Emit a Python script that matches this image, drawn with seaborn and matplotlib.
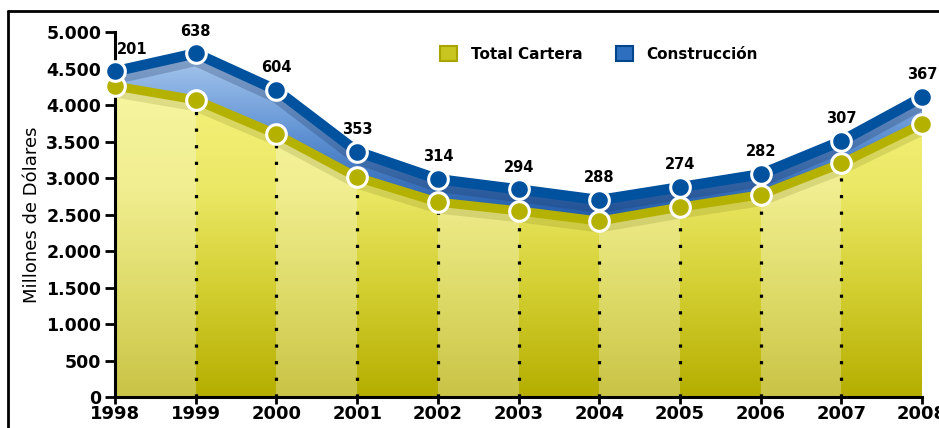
import numpy as np
import pandas as pd
import seaborn as sns
import matplotlib.pyplot as plt
from matplotlib.colors import LinearSegmentedColormap
from matplotlib.patches import PathPatch, Patch
from matplotlib.lines import Line2D
from matplotlib.ticker import FuncFormatter

# Data
years = [1998, 1999, 2000, 2001, 2002, 2003, 2004, 2005, 2006, 2007, 2008]
total_cartera = [4260, 4070, 3600, 3010, 2670, 2550, 2410, 2600, 2770, 3200, 3740]
construccion = [201, 638, 604, 353, 314, 294, 288, 274, 282, 307, 367]

df = pd.DataFrame({"year": years, "total": total_cartera, "constr": construccion})
df["top"] = df["total"] + df["constr"]

sns.set_style("white")
plt.rcParams["font.family"] = ["DejaVu Sans"]
plt.rcParams["text.color"] = "black"
plt.rcParams["xtick.color"] = "black"
plt.rcParams["ytick.color"] = "black"
plt.rcParams["axes.labelcolor"] = "black"

fig = plt.figure(figsize=(9.39, 4.28), dpi=100)
ax = fig.add_axes([0.1225, 0.0724, 0.8595, 0.8528])

yellow_cmap = LinearSegmentedColormap.from_list("yel", ["#b5ae00", "#d2ce30", "#ebe866", "#f5f27c"])
blue_cmap = LinearSegmentedColormap.from_list("blu", ["#1f5aa8", "#5d90d2", "#a9c8ee"])


def gradient_fill(x, y1, y2, cmap, vmin, vmax, z, alpha=1.0):
    poly = ax.fill_between(x, y1, y2, facecolor="none", edgecolor="none")
    path = poly.get_paths()[0]
    grad = np.linspace(0, 1, 256).reshape(-1, 1)
    im = ax.imshow(grad, extent=[x[0], x[-1], vmin, vmax], origin="lower",
                   aspect="auto", cmap=cmap, zorder=z, alpha=alpha)
    im.set_clip_path(PathPatch(path, transform=ax.transData))
    return path


ypath = gradient_fill(df["year"].values, 0, df["total"].values, yellow_cmap, 0, 4300, 1)
gradient_fill(df["year"].values, df["total"].values, df["top"].values, blue_cmap, 2400, 4700, 1)

# alternating lighter columns in the yellow area
for i in range(0, len(years) - 1, 2):
    r = ax.axvspan(years[i], years[i + 1], color="white", alpha=0.28, lw=0, zorder=1.5)
    r.set_clip_path(PathPatch(ypath, transform=ax.transData))

# soft shadow under the lines
ax.plot(df["year"], df["top"] - 90, color="#1a2f55", lw=9, alpha=0.25, zorder=2, solid_capstyle="round")
ax.plot(df["year"], df["total"] - 80, color="#555500", lw=8, alpha=0.15, zorder=2, solid_capstyle="round")

# dotted drop lines
for yr, val in zip(years[1:-1], total_cartera[1:-1]):
    ax.plot([yr, yr], [0, val], color="black", lw=2.3, linestyle=(0, (1, 4.2)), zorder=2)

sns.lineplot(data=df, x="year", y="total", color="#b5b100", lw=6.5, ax=ax, zorder=3)
sns.lineplot(data=df, x="year", y="top", color="#00519e", lw=7.5, ax=ax, zorder=3)
sns.scatterplot(data=df, x="year", y="total", color="#b5b100", s=200, edgecolor="white",
                linewidth=2.2, ax=ax, zorder=4, clip_on=False)
sns.scatterplot(data=df, x="year", y="top", color="#00519e", s=200, edgecolor="white",
                linewidth=2.2, ax=ax, zorder=4, clip_on=False)

for i, (yr, top, c) in enumerate(zip(years, df["top"], construccion)):
    dx = 12 if i == 0 else 0
    ax.annotate(str(c), (yr, top), xytext=(dx, 16), textcoords="offset points",
                ha="center", va="center", fontsize=10.5, fontweight="bold", zorder=5)

ax.set_xlim(1998, 2008)
ax.set_ylim(0, 5000)
ax.set_xticks(years)
ax.set_yticks(range(0, 5001, 500))
ax.yaxis.set_major_formatter(FuncFormatter(lambda v, p: f"{int(v):,}".replace(",", ".")))
ax.tick_params(axis="y", direction="out", length=7, width=2, pad=3, labelsize=12.5, left=True)
ax.tick_params(axis="x", direction="out", length=5, width=2, pad=1, labelsize=13, bottom=True)
for lbl in ax.get_xticklabels() + ax.get_yticklabels():
    lbl.set_fontweight("bold")
ax.set_xlabel("")
ax.set_ylabel("Millones de Dólares", fontsize=13, labelpad=4)
ax.spines["top"].set_visible(False)
ax.spines["right"].set_visible(False)
for s in ["left", "bottom"]:
    ax.spines[s].set_linewidth(2.2)
    ax.spines[s].set_color("black")

handles = [Patch(facecolor="#c9c520", edgecolor="#a9a500", lw=1.5, label="Total Cartera"),
           Patch(facecolor="#2f6fbf", edgecolor="#00468c", lw=1.5, label="Construcción")]
fig.legend(handles=handles, loc="center", bbox_to_anchor=(0.638, 0.874), ncol=2, frameon=False,
           prop={"weight": "bold", "size": 11}, handlelength=1.1, handleheight=1.1,
           columnspacing=2.2, handletextpad=0.9)

# outer frame (cut on right/bottom)
fig.add_artist(Line2D([0.0085, 1.0], [0.974, 0.974], color="black", lw=2, transform=fig.transFigure))
fig.add_artist(Line2D([0.0085, 0.0085], [0.0, 0.974], color="black", lw=2, transform=fig.transFigure))

fig.savefig("out.png", dpi=100)
